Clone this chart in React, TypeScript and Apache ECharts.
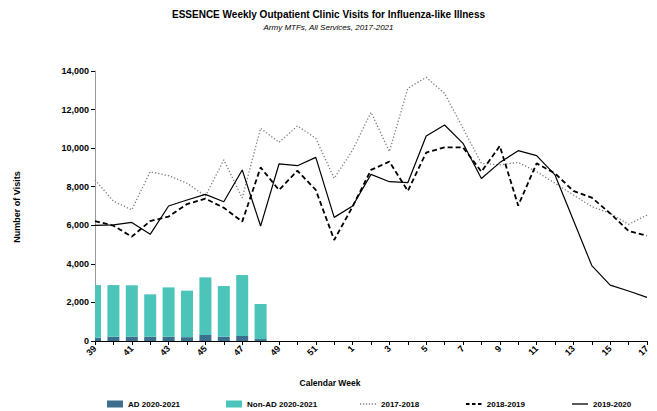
import React, { useEffect, useRef } from "react";
import * as echarts from "echarts";

const weeks = ["39","40","41","42","43","44","45","46","47","48","49","50","51","52","1","2","3","4","5","6","7","8","9","10","11","12","13","14","15","16","17"];
const adValues = [170, 220, 220, 220, 220, 200, 310, 220, 260, 100];
const nonAdValues = [2730, 2680, 2670, 2200, 2560, 2410, 2990, 2630, 3160, 1820];
const s1718 = [8350,7250,6800,8780,8570,8180,7520,9390,7420,11030,10300,11150,10510,8430,9900,11860,9820,13100,13670,12840,11030,9210,9130,9260,8780,8180,7570,6970,6620,6050,6530];
const s1819 = [6220,5980,5410,6220,6450,7100,7380,6910,6190,9000,7830,8830,7830,5240,6970,8870,9300,7780,9770,10040,10040,8780,10110,7020,9210,8690,7780,7430,6620,5700,5460];
const s1920 = [6000,6020,6150,5530,7000,7310,7600,7220,8870,5960,9180,9090,9520,6410,7000,8640,8260,8210,10630,11200,10250,8430,9250,9870,9610,8610,6260,3910,2900,2590,2260];

const SANS = "'Liberation Sans', Arial, sans-serif";
const AD_COLOR = "#3d6e8e";
const NONAD_COLOR = "#4dc4b9";

const ICON_DOTTED = "path://M0,0h1.2v1.2h-1.2zM2.8,0h1.2v1.2h-1.2zM5.6,0h1.2v1.2h-1.2zM8.4,0h1.2v1.2h-1.2zM11.2,0h1.2v1.2h-1.2zM14,0h1.2v1.2h-1.2z";
const ICON_DASHED = "path://M0,0h3.5v2h-3.5zM6,0h3.5v2h-3.5zM12,0h3.5v2h-3.5z";
const ICON_SOLID = "path://M0,0h16v1.3h-16z";

export default function App() {
  const ref = useRef<HTMLDivElement>(null);
  useEffect(() => {
    if (!ref.current) return;
    const chart = echarts.init(ref.current, undefined, { renderer: "svg" });
    const legendText = { fontFamily: SANS, fontSize: 8, color: "#000", fontWeight: "bold" as const };
    const mkLegend = (name: string, left: number, extra: any = {}) => ({
      data: [name], left, top: 395, itemWidth: 16, itemHeight: 7, textStyle: legendText, ...extra,
    });
    const barRender = (color: string) => (params: any, api: any) => {
      const i = api.value(0);
      const lo = api.value(1);
      const hi = api.value(2);
      const pTop = api.coord([i, hi]);
      const pBot = api.coord([i, lo]);
      const w = 12;
      const cs = params.coordSys;
      const shape = echarts.graphic.clipRectByRect(
        { x: pTop[0] - w / 2, y: pTop[1], width: w, height: pBot[1] - pTop[1] },
        { x: cs.x, y: cs.y, width: cs.width, height: cs.height }
      );
      if (!shape) return null;
      return { type: "rect", shape, style: { fill: color } };
    };
    const adData = adValues.map((v, i) => [i, 0, v]);
    const nonAdData = nonAdValues.map((v, i) => [i, adValues[i], adValues[i] + v]);
    chart.setOption({
      animation: false,
      backgroundColor: "#fff",
      title: {
        text: "ESSENCE Weekly Outpatient Clinic Visits for Influenza-like Illness",
        subtext: "Army MTFs, All Services, 2017-2021",
        left: "center",
        top: 4,
        itemGap: 4,
        textStyle: { fontFamily: SANS, fontSize: 10, fontWeight: "bold", color: "#000" },
        subtextStyle: { fontFamily: SANS, fontSize: 8, fontStyle: "italic", color: "#000" },
      },
      legend: [
        mkLegend("AD 2020-2021", 102, { icon: "rect" }),
        mkLegend("Non-AD 2020-2021", 221, { icon: "rect" }),
        mkLegend("2017-2018", 355, { icon: ICON_DOTTED, itemHeight: 2 }),
        mkLegend("2018-2019", 461, { icon: ICON_DASHED, itemHeight: 2 }),
        mkLegend("2019-2020", 567, { icon: ICON_SOLID, itemHeight: 2 }),
      ],
      grid: { left: 95, right: 10, top: 71, bottom: 70 },
      xAxis: {
        type: "category",
        data: weeks,
        boundaryGap: false,
        axisLine: { lineStyle: { color: "#000", width: 1 } },
        axisTick: { show: true, interval: 0, length: 4, lineStyle: { color: "#000" } },
        axisLabel: { interval: 1, rotate: 45, fontFamily: SANS, fontSize: 9, fontWeight: "bold", color: "#000", margin: 6 },
      },
      yAxis: {
        type: "value",
        min: 0,
        max: 14000,
        interval: 2000,
        splitLine: { show: false },
        axisLine: { show: true, lineStyle: { color: "#999", width: 1 } },
        axisTick: { show: true, length: 4, lineStyle: { color: "#000" } },
        axisLabel: {
          fontFamily: SANS, fontSize: 9, fontWeight: "bold", color: "#000", margin: 6,
          formatter: (v: number) => v.toLocaleString("en-US"),
        },
      },
      graphic: [
        {
          type: "text", x: 330, y: 383,
          style: { text: "Calendar Week", fontFamily: SANS, fontSize: 8.5, fontWeight: "bold", fill: "#000", align: "center", verticalAlign: "middle" },
        },
        {
          type: "text", x: 17, y: 207, rotation: Math.PI / 2,
          style: { text: "Number of Visits", fontFamily: SANS, fontSize: 9, fontWeight: "bold", fill: "#000", align: "center", verticalAlign: "middle" },
        },
      ],
      series: [
        {
          name: "AD 2020-2021", type: "custom", data: adData, renderItem: barRender(AD_COLOR),
          encode: { x: 0, y: [1, 2] }, itemStyle: { color: AD_COLOR }, z: 2,
        },
        {
          name: "Non-AD 2020-2021", type: "custom", data: nonAdData, renderItem: barRender(NONAD_COLOR),
          encode: { x: 0, y: [1, 2] }, itemStyle: { color: NONAD_COLOR }, z: 2,
        },
        {
          name: "2017-2018", type: "line", data: s1718, symbol: "none", clip: true, z: 3,
          lineStyle: { color: "#7f7f7f", width: 1.3, type: [1.3, 2] },
          itemStyle: { color: "#7f7f7f" },
        },
        {
          name: "2018-2019", type: "line", data: s1819, symbol: "none", clip: true, z: 3,
          lineStyle: { color: "#000", width: 1.8, type: [5, 3] },
          itemStyle: { color: "#000" },
        },
        {
          name: "2019-2020", type: "line", data: s1920, symbol: "none", clip: true, z: 3,
          lineStyle: { color: "#000", width: 1.2 },
          itemStyle: { color: "#000" },
        },
      ],
    });
    return () => chart.dispose();
  }, []);
  return <div ref={ref} style={{ position: "absolute", left: 0, top: 0, width: 657, height: 411 }} />;
}
